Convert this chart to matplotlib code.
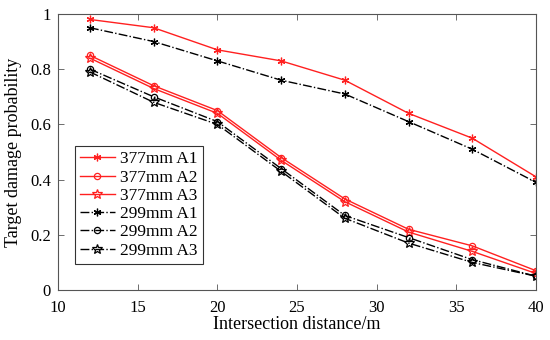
import matplotlib
matplotlib.use("Agg")
import matplotlib.pyplot as plt

plt.rcParams['font.family'] = ['Liberation Serif', 'DejaVu Serif']
plt.rcParams['mathtext.fontset'] = 'stix'

x = [12, 16, 20, 24, 28, 32, 36, 40]
a377_1 = [0.98, 0.95, 0.87, 0.83, 0.76, 0.64, 0.55, 0.41]
a377_2 = [0.85, 0.74, 0.65, 0.48, 0.33, 0.22, 0.16, 0.07]
a377_3 = [0.84, 0.73, 0.64, 0.47, 0.32, 0.21, 0.14, 0.06]
a299_1 = [0.95, 0.90, 0.83, 0.76, 0.71, 0.61, 0.51, 0.39]
a299_2 = [0.80, 0.70, 0.61, 0.44, 0.27, 0.19, 0.11, 0.05]
a299_3 = [0.79, 0.68, 0.60, 0.43, 0.26, 0.17, 0.10, 0.05]
labels = ['377mm A1', '377mm A2', '377mm A3', '299mm A1', '299mm A2', '299mm A3']

fig = plt.figure(figsize=(5.5, 3.4), dpi=100)
ax = fig.add_axes([0.1055, 0.147, 0.869, 0.812])

red = '#ff2020'
ax.plot(x, a377_1, color=red, lw=1.0, marker=(6, 2, 0), ms=5.5, mew=0.9, label=labels[0])
ax.plot(x, a377_2, color=red, lw=1.0, marker='o', ms=4.5, mfc='none', mew=0.9, label=labels[1])
ax.plot(x, a377_3, color=red, lw=1.0, marker='*', ms=7, mfc='none', mew=0.9, label=labels[2])
ax.plot(x, a299_1, color='black', lw=1.0, ls='-.', marker=(6, 2, 0), ms=5.5, mew=0.9, label=labels[3])
ax.plot(x, a299_2, color='black', lw=1.0, ls='-.', marker='o', ms=4.5, mfc='none', mew=0.9, label=labels[4])
ax.plot(x, a299_3, color='black', lw=1.0, ls='-.', marker='*', ms=7, mfc='none', mew=0.9, label=labels[5])

ax.set_xlim(10, 40)
ax.set_ylim(0, 1)
ax.set_xticks([10, 15, 20, 25, 30, 35, 40])
ax.set_yticks([0, 0.2, 0.4, 0.6, 0.8, 1])
ax.set_yticklabels(['0', '0.2', '0.4', '0.6', '0.8', '1'])
ax.tick_params(direction='in', top=True, right=True, labelsize=12, length=4, width=0.6, color='#555555')
ax.tick_params(axis='x', pad=7)
ax.tick_params(axis='y', pad=5)
for s in ax.spines.values():
    s.set_linewidth(0.8)
    s.set_color('#555555')
ax.set_xlabel('Intersection distance/m', fontsize=13, labelpad=0)
ax.set_ylabel('Target damage probability', fontsize=13, labelpad=6)

leg = ax.legend(loc='lower left', bbox_to_anchor=(0.035, 0.095), fontsize=12.5, frameon=True,
                fancybox=False, edgecolor='black', handlelength=2.0, handletextpad=0.3,
                labelspacing=0.12, borderpad=0.3, borderaxespad=0)
leg.get_frame().set_linewidth(0.8)

fig.savefig('out.png', dpi=100)
